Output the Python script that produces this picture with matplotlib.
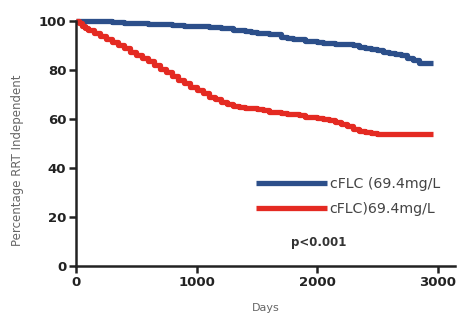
import numpy as np
import matplotlib
matplotlib.use("Agg")
import matplotlib.pyplot as plt

# Kaplan-Meier curves
blue_days = [0, 100, 200, 300, 400, 500, 600, 700, 800, 900, 1000, 1100, 1200,
             1300, 1400, 1450, 1500, 1600, 1700, 1750, 1800, 1900, 2000, 2050,
             2150, 2200, 2300, 2350, 2400, 2450, 2500, 2550, 2600, 2650, 2700,
             2750, 2800, 2850, 2960]
blue_pct = [100, 100, 99.8, 99.5, 99.2, 99, 98.8, 98.6, 98.3, 98, 97.8, 97.5, 97,
            96.5, 96, 95.5, 95, 94.5, 93.5, 93, 92.5, 92, 91.5, 91,
            90.8, 90.5, 90, 89.5, 89, 88.5, 88, 87.5, 87, 86.5, 86,
            85, 84, 83, 83]

red_days = [0, 25, 50, 75, 100, 150, 200, 250, 300, 350, 400, 450, 500, 550,
            600, 650, 700, 750, 800, 850, 900, 950, 1000, 1050, 1100, 1150,
            1200, 1250, 1300, 1350, 1400, 1450, 1500, 1550, 1600, 1650, 1700,
            1750, 1800, 1850, 1900, 1950, 2000, 2050, 2100, 2150, 2200, 2250,
            2300, 2350, 2400, 2450, 2500, 2960]
red_pct = [100, 99, 98, 97.2, 96.5, 95.2, 94, 92.8, 91.5, 90.2, 89, 87.5, 86, 84.8,
           83.5, 82, 80.5, 79, 77.5, 76, 74.5, 73.2, 72, 70.5, 69, 68,
           67, 66.2, 65.5, 65, 64.5, 64.3, 64, 63.5, 63, 62.8, 62.5,
           62.2, 62, 61.5, 61, 60.8, 60.5, 60, 59.5, 58.8, 58, 57,
           56, 55.2, 54.5, 54.2, 54, 54]

labels = ["cFLC (69.4mg/L", "cFLC)69.4mg/L"]
xticks = [0, 1000, 2000, 3000]
yticks = [0, 20, 40, 60, 80, 100]

fig = plt.figure(figsize=(4.57, 3.26), dpi=100)
ax = fig.add_axes([76/457, 1-266/326, (455-76)/457, (266-21)/326])

ax.plot(blue_days, blue_pct, drawstyle="steps-post", color="#2c4f8a", lw=3.8,
        label=labels[0], clip_on=False, solid_capstyle="butt")
ax.plot(red_days, red_pct, drawstyle="steps-post", color="#e42a22", lw=3.8,
        label=labels[1], clip_on=False, solid_capstyle="butt")

ax.set_xlim(0, 3145)
ax.set_ylim(0, 100)
ax.set_xticks(xticks)
ax.set_yticks(yticks)
for s in ["top", "right"]:
    ax.spines[s].set_visible(False)
for s in ["left", "bottom"]:
    ax.spines[s].set_linewidth(1.8)
    ax.spines[s].set_color("#222222")
ax.tick_params(direction="out", length=5, width=1.8, color="#222222",
               labelsize=9.5, pad=2)
for t in ax.get_xticklabels() + ax.get_yticklabels():
    t.set_fontweight("bold")
    t.set_color("#222222")

ax.set_xlabel("Days", fontsize=8, color="#666666", labelpad=10)
ax.set_ylabel("Percentage RRT Independent", fontsize=8.5, color="#666666")
ax.yaxis.set_label_coords(-0.138, 0.43)

leg = ax.legend(loc="upper left", bbox_to_anchor=(0.46, 0.385), frameon=False,
                fontsize=10.2, handlelength=5.0, handletextpad=0.2,
                labelspacing=0.75, borderaxespad=0)
for t in leg.get_texts():
    t.set_color("#444444")

ax.text(2010, 9.5, "p<0.001", fontsize=8.5, fontweight="bold", color="#333333",
        ha="center", va="center")

fig.savefig("out.png", dpi=100)
